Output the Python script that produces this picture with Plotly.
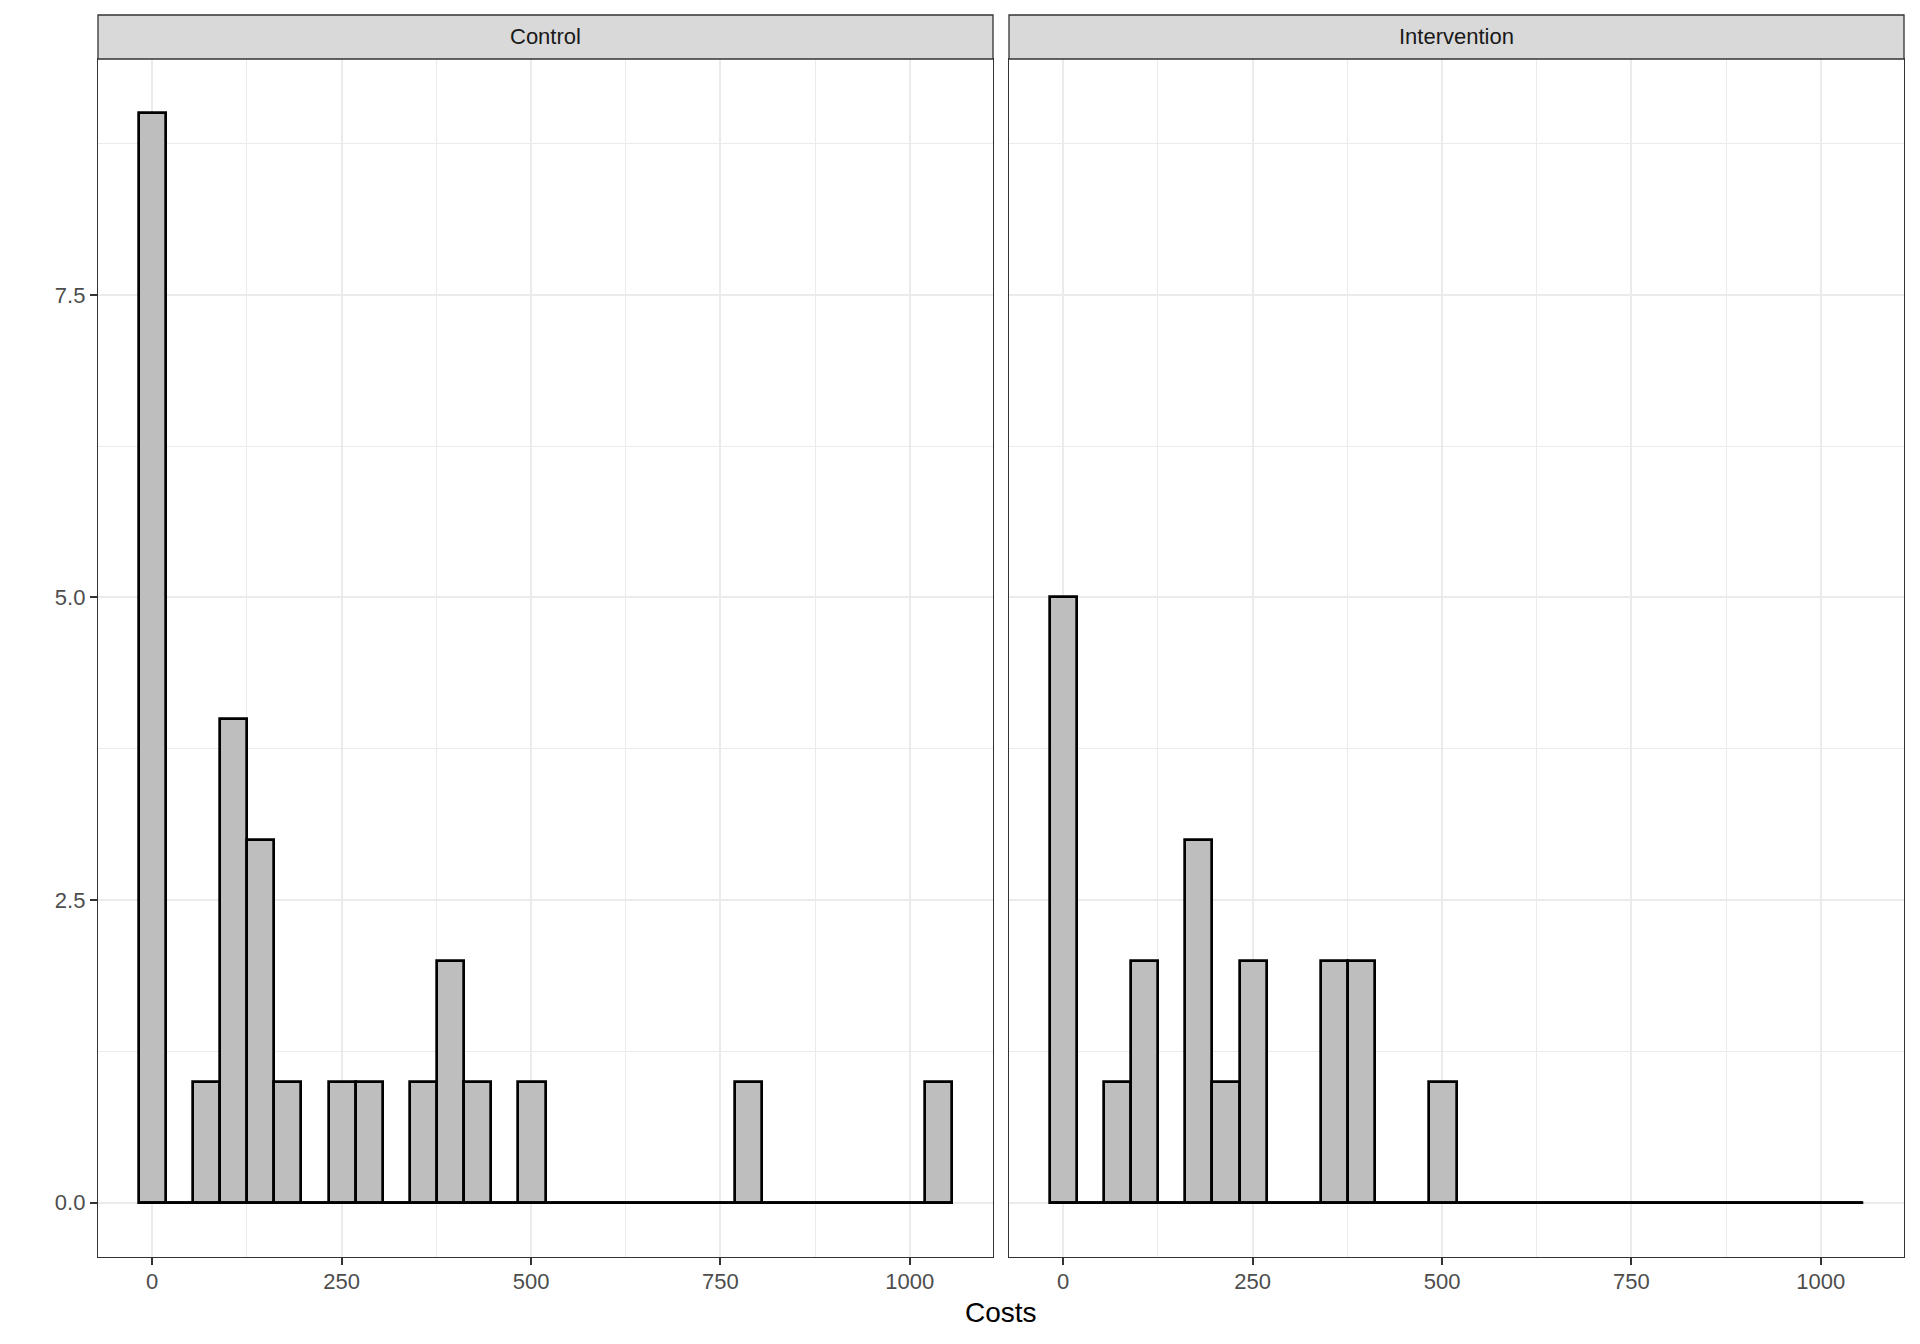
import plotly.graph_objects as go

# Histogram bins (bin centres, width) and counts per panel
bin_centers = [0, 35.8, 71.6, 107.4, 143.2, 179.0, 214.8, 250.6, 286.4, 322.2,
               358.0, 393.8, 429.6, 465.4, 501.2, 537.0, 572.8, 608.6, 644.4, 680.2,
               716.0, 751.8, 787.6, 823.4, 859.2, 895.0, 930.8, 966.6, 1002.4, 1038.2]
bin_width = 35.8

control_counts = [9, 0, 1, 4, 3, 1, 0, 1, 1, 0,
                  1, 2, 1, 0, 1, 0, 0, 0, 0, 0,
                  0, 0, 1, 0, 0, 0, 0, 0, 0, 1]
intervention_counts = [5, 0, 1, 2, 0, 3, 1, 2, 0, 0,
                       2, 2, 0, 0, 1, 0, 0, 0, 0, 0,
                       0, 0, 0, 0, 0, 0, 0, 0, 0, 0]

panel_names = ["Control", "Intervention"]
x_ticks = [0, 250, 500, 750, 1000]
y_ticks = [0, 2.5, 5.0, 7.5]

FONT = "Liberation Sans"
GRID = "#ebebeb"
DARK = "#333333"

# ggplot-style 5% expansion of the scales
x_lo = bin_centers[0] - bin_width / 2
x_hi = bin_centers[-1] + bin_width / 2
x_pad = 0.05 * (x_hi - x_lo)
x_range = [x_lo - x_pad, x_hi + x_pad]
y_max = max(max(control_counts), max(intervention_counts))
y_range = [-0.05 * y_max, y_max * 1.05]

# page body adds an 8px offset, so positions are shifted back by it
W, H = 1920, 1344
OFF = 8
x_domains = [[(98 - OFF) / W, (993 - OFF) / W], [(1009 - OFF) / W, (1904 - OFF) / W]]
y_domain = [1 - (1257 - OFF) / H, 1 - (59 - OFF) / H]
strip = [1 - (59 - OFF) / H, 1 - (15 - OFF) / H]

fig = go.Figure()

for i, counts in enumerate([control_counts, intervention_counts]):
    xa = "x" if i == 0 else "x2"
    ya = "y" if i == 0 else "y2"
    fig.add_trace(go.Bar(x=bin_centers, y=counts, width=bin_width,
                         marker=dict(color="#bebebe", line=dict(color="black", width=2.7)),
                         xaxis=xa, yaxis=ya, showlegend=False, hoverinfo="x+y"))
    # baseline drawn by the empty bins
    fig.add_trace(go.Scatter(x=[x_lo, x_hi], y=[0, 0], mode="lines",
                             line=dict(color="black", width=2.7),
                             xaxis=xa, yaxis=ya, showlegend=False, hoverinfo="skip"))

grid_common = dict(showline=True, mirror=True, linecolor=DARK, linewidth=1.3,
                   showgrid=True, gridcolor=GRID, gridwidth=1.8, zeroline=False,
                   automargin=False)
tick_common = dict(ticks="outside", ticklen=7, tickwidth=2.4, tickcolor=DARK,
                   tickfont=dict(family=FONT, size=22, color="#4d4d4d"))
x_minor = dict(dtick=125, tick0=0, showgrid=True, gridcolor=GRID, gridwidth=0.9, ticks="")
y_minor = dict(dtick=1.25, tick0=0, showgrid=True, gridcolor=GRID, gridwidth=0.9, ticks="")

fig.update_layout(
    width=W, height=H,
    margin=dict(l=0, r=0, t=0, b=0),
    plot_bgcolor="white", paper_bgcolor="white",
    bargap=0,
    xaxis=dict(domain=x_domains[0], range=x_range, tickvals=x_ticks, anchor="y",
               ticklabelstandoff=-3, minor=x_minor, **grid_common, **tick_common),
    xaxis2=dict(domain=x_domains[1], range=x_range, tickvals=x_ticks, anchor="y2",
                ticklabelstandoff=-3, minor=x_minor, **grid_common, **tick_common),
    yaxis=dict(domain=y_domain, range=y_range, tickvals=y_ticks, tickformat=".1f", anchor="x",
               minor=y_minor, **grid_common, **tick_common),
    yaxis2=dict(domain=y_domain, range=y_range, tickvals=y_ticks, anchor="x2",
                showticklabels=False, ticks="", minor=y_minor, **grid_common),
)

# facet strips
for name, dom in zip(panel_names, x_domains):
    fig.add_shape(type="rect", xref="paper", yref="paper",
                  x0=dom[0], x1=dom[1], y0=strip[0], y1=strip[1],
                  fillcolor="#d9d9d9", line=dict(color=DARK, width=1.3))
    fig.add_annotation(text=name, xref="paper", yref="paper",
                       x=(dom[0] + dom[1]) / 2, y=(strip[0] + strip[1]) / 2,
                       xanchor="center", yanchor="middle",
                       showarrow=False, font=dict(family=FONT, size=22, color="#1a1a1a"))

fig.add_annotation(text="Costs", xref="paper", yref="paper",
                   x=(x_domains[0][0] + x_domains[1][1]) / 2, y=1 - (1312 - OFF) / H,
                   xanchor="center", yanchor="middle",
                   showarrow=False, font=dict(family=FONT, size=28, color="black"))

fig.write_html("out.html")
